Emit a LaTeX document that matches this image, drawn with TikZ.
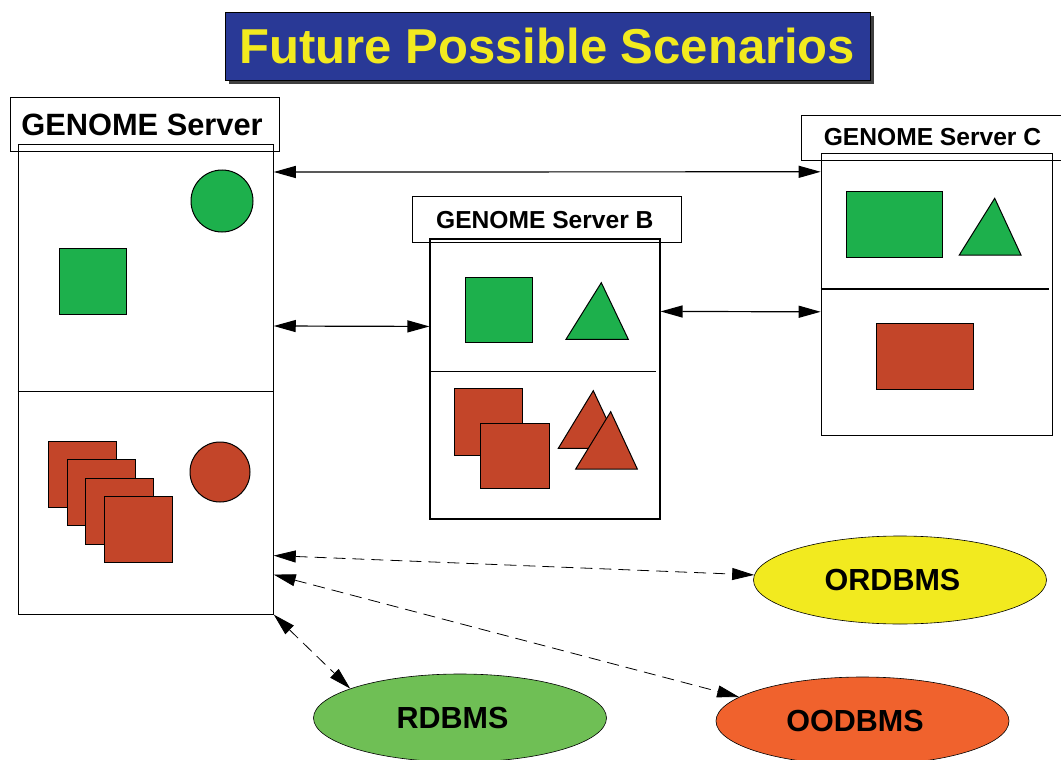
\documentclass[tikz,border=0pt]{standalone}
\usepackage{fontspec}
\setmainfont{Liberation Sans}
\usetikzlibrary{arrows.meta, shapes.geometric, shadows}
\definecolor{titleblue}{RGB}{41,57,150}
\definecolor{titleyellow}{RGB}{242,234,31}
\definecolor{objgreen}{RGB}{29,176,76}
\definecolor{objred}{RGB}{195,69,41}
\definecolor{rdbgreen}{RGB}{111,191,85}
\definecolor{oodorange}{RGB}{240,98,45}

\begin{document}
\begin{tikzpicture}[x=1pt, y=-1pt,
    every node/.style={font=\bfseries, inner sep=0pt},
    srvbox/.style={draw, line width=1.1pt, rectangle},
    srvtitle/.style={draw, line width=1pt, rectangle, font=\bfseries\fontsize{24.6}{28}\selectfont},
    dbms/.style={draw, line width=0.6pt, ellipse, minimum width=293pt, minimum height=88pt,
        font=\bfseries\fontsize{30.5}{36}\selectfont},
    gobj/.style={fill=objgreen, draw=black, line width=1pt},
    robj/.style={fill=objred, draw=black, line width=1pt},
    link/.style={{Triangle[length=22pt,width=12pt]}-{Triangle[length=22pt,width=12pt]}, line width=1.2pt},
    dblink/.style={link, dash pattern=on 12pt off 7pt, line width=0.8pt}]
        \useasboundingbox (0,0) rectangle (1061,760);
        \clip (0,0) rectangle (1061,760);

        % title
        \node[fill=titleblue, draw=black, line width=0.8pt, minimum width=645pt, minimum height=68pt,
              drop shadow={shadow xshift=4pt, shadow yshift=-4pt, fill=black!75, opacity=1},
              text=titleyellow, font=\bfseries\fontsize{49}{56}\selectfont] (title) at (547.5,46) {Future Possible Scenarios};

        % servers
        \node[srvtitle, minimum width=269pt, minimum height=53pt, font=\bfseries\fontsize{30.8}{34}\selectfont] (lblA) at (144.5,124.5) {GENOME Server\hspace*{5pt}};
        \node[srvbox, minimum width=255pt, minimum height=469.5pt] (srvA) at (145.7,379.3) {};
        \node[srvtitle, minimum width=269pt, minimum height=46pt] (lblB) at (547.3,219.7) {GENOME Server B\hspace*{5pt}};
        \node[srvbox, minimum width=230pt, minimum height=280pt] (srvB) at (545,379) {};
        \node[srvtitle, minimum width=263pt, minimum height=45pt] (lblC) at (932.5,137.5) {GENOME Server C};
        \node[srvbox, minimum width=231pt, minimum height=281.7pt] (srvC) at (936.7,294.2) {};

        % dividers
        \draw[line width=1.1pt] (srvA.west |- 0,391.7) -- (srvA.east |- 0,391.7);
        \draw[line width=1.1pt] (srvB.west |- 0,371.7) -- (656,371.7);
        \draw[line width=1.1pt] (srvC.west |- 0,289) -- (1049,289);

        % databases
        \node[dbms, fill=titleyellow] (ord) at (900,580) {ORDBMS\hspace*{15pt}};
        \node[dbms, fill=rdbgreen] (rdb) at (460,718) {RDBMS\hspace*{15pt}};
        \node[dbms, fill=oodorange] (ood) at (862.5,721) {OODBMS\hspace*{15pt}};

        % server A objects
        \filldraw[gobj] (222,201) circle[radius=31pt];
        \filldraw[gobj] (59,248) rectangle (126,314);
        \foreach \i in {0,...,3}
            \filldraw[robj] ({48.7+18.6*\i},{441+18.5*\i}) rectangle ++(68,66);
        \filldraw[robj] (220,472) circle[radius=30pt];

        % server B objects
        \filldraw[gobj] (465,277) rectangle (532.3,342.7);
        \filldraw[gobj] (566,339.3) -- (601.3,282.7) -- (628.3,339.3) -- cycle;
        \filldraw[robj] (454.3,388.3) rectangle (522.7,455);
        \filldraw[robj] (480.7,423.3) rectangle (549,488.3);
        \filldraw[robj] (558.3,448.3) -- (593.3,390.7) -- (620.3,448.3) -- cycle;
        \filldraw[robj] (575.7,469) -- (610.7,411.7) -- (637.3,469) -- cycle;

        % server C objects
        \filldraw[gobj] (846,191.7) rectangle (942.3,257.7);
        \filldraw[gobj] (959.3,255) -- (994.7,198.3) -- (1021,255) -- cycle;
        \filldraw[robj] (876.7,323.3) rectangle (973.3,389);

        % links between servers
        \draw[link] ([yshift=-28pt]srvA.north east) -- ([yshift=-19pt]srvC.north west);
        \draw[link] ([yshift=-182pt]srvA.north east) -- ([yshift=-88pt]srvB.north west);
        \draw[link] ([yshift=-73pt]srvB.north east) -- ([yshift=-159pt]srvC.north west);

        % links to the databases
        \draw[dblink] ([yshift=59pt]srvA.south east) -- (ord.178);
        \draw[dblink] ([yshift=40pt]srvA.south east) -- (ood.169);
        \draw[dblink] (srvA.south east) -- (rdb.165);
\end{tikzpicture}
\end{document}
